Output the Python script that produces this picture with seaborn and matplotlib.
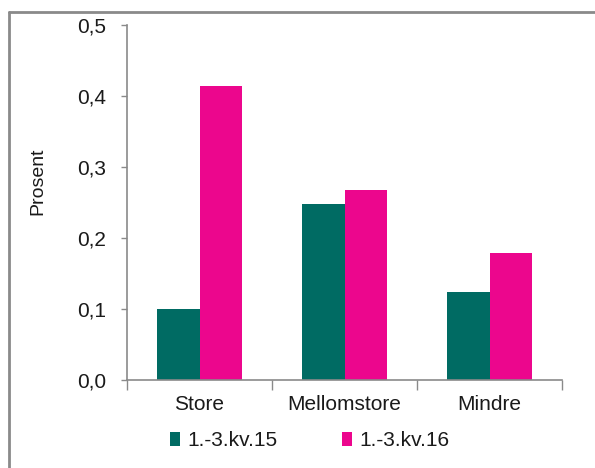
import pandas as pd
import seaborn as sns
import matplotlib.pyplot as plt
from matplotlib.lines import Line2D
from matplotlib.ticker import FuncFormatter, FixedLocator

# data
kategorier = ['Store', 'Mellomstore', 'Mindre']
perioder = ['1.-3.kv.15', '1.-3.kv.16']
kv15 = [0.100, 0.248, 0.124]
kv16 = [0.414, 0.268, 0.179]
farger = ['#006B63', '#EC068D']

df = pd.DataFrame({
    'kategori': kategorier * 2,
    'periode': [perioder[0]] * 3 + [perioder[1]] * 3,
    'verdi': kv15 + kv16,
})

sns.set_style('white')
plt.rcParams['font.family'] = ['Liberation Sans', 'DejaVu Sans']
tekst = '#1a1a1a'
grå = '#8a8a8a'

fig = plt.figure(figsize=(5.95, 4.68), dpi=100)
ax = fig.add_axes([127 / 595, 1 - 380 / 468, 435 / 595, 355 / 468])

sns.barplot(data=df, x='kategori', y='verdi', hue='periode', palette=farger,
            width=0.58, gap=0, saturation=1, linewidth=0, ax=ax)

ax.set_xlim(-0.5, 2.5)
ax.set_ylim(0, 0.5)
ax.set_yticks([0, 0.1, 0.2, 0.3, 0.4, 0.5])
ax.yaxis.set_major_formatter(FuncFormatter(lambda v, p: f'{v:.1f}'.replace('.', ',')))
ax.xaxis.set_minor_locator(FixedLocator([-0.5, 0.5, 1.5, 2.5]))

sns.despine(ax=ax)
for s in ['left', 'bottom']:
    ax.spines[s].set_color(grå)
    ax.spines[s].set_linewidth(1.2)

ax.tick_params(axis='y', length=4, width=1, color=grå, pad=11,
               labelsize=15, labelcolor=tekst, left=True)
ax.tick_params(axis='x', which='major', length=0, pad=11,
               labelsize=15, labelcolor=tekst)
ax.tick_params(axis='x', which='minor', length=7, width=1, color=grå, bottom=True)

ax.set_xlabel('')
ax.set_ylabel('Prosent', fontsize=14, color=tekst)
ax.yaxis.set_label_coords(-0.185, 0.56)

ax.legend(loc='center', bbox_to_anchor=(0.52, 0.058), bbox_transform=fig.transFigure,
          ncol=2, frameon=False, fontsize=15, handlelength=0.48, handleheight=0.67,
          handletextpad=0.35, columnspacing=3.1, labelcolor=tekst)

# grey frame round the chart (left and top edges)
fig.add_artist(Line2D([9 / 595, 9 / 595], [0, 1 - 12 / 468], color=grå, lw=2))
fig.add_artist(Line2D([9 / 595, 1], [1 - 12 / 468, 1 - 12 / 468], color=grå, lw=2))

fig.savefig('out.png', dpi=100, facecolor='white')
